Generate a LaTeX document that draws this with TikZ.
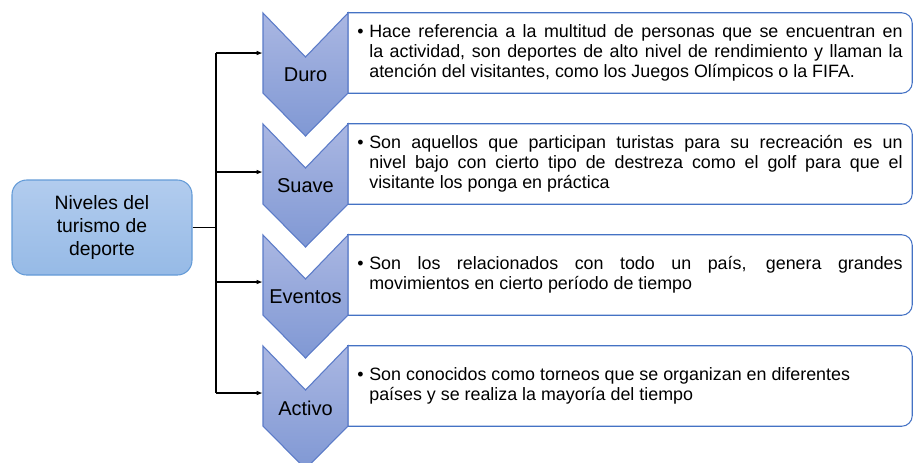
\documentclass[tikz,border=0pt]{standalone}
\usepackage{fontspec}
\setmainfont{Liberation Sans}
\usetikzlibrary{positioning,arrows.meta,calc}

\definecolor{chevtop}{RGB}{170,183,226}
\definecolor{chevbot}{RGB}{128,152,212}
\definecolor{chevline}{RGB}{91,123,200}
\definecolor{boxline}{RGB}{68,114,196}
\definecolor{maintop}{RGB}{178,204,238}
\definecolor{mainbot}{RGB}{150,186,230}
\definecolor{mainline}{RGB}{100,155,215}

\begin{document}
\begin{tikzpicture}[x=0.75pt,y=-0.75pt,
  chev/.style={draw=chevline,line width=0.8pt,top color=chevtop,bottom color=chevbot},
  lvl/.style={minimum width=63.75pt,minimum height=27pt,inner sep=0pt,font=\fontsize{15}{18}\selectfont},
  txt/.style={minimum width=423pt,minimum height=60pt,text width=409pt,inner sep=0pt,align=justify,font=\fontsize{13.4}{15}\selectfont,
    execute at begin node={\hangindent=9pt\hangafter=1\noindent\makebox[9pt][l]{\textbullet}}},
  frame/.style={draw=boxline,line width=0.8pt},
  wire/.style={line width=0.9pt},
  tip/.style={-{Latex[length=4.5pt,width=3.5pt]}}]
  \useasboundingbox (0,0) rectangle (913,462);

  % root
  \node[rounded corners=11pt,draw=mainline,line width=0.8pt,top color=maintop,bottom color=mainbot,minimum width=135pt,minimum height=71.25pt,align=center,font=\fontsize{14.5}{17.5}\selectfont] (main) at (102,227.5) {Niveles del\\turismo de\\deporte};

  % descriptions
  \node[txt] (duroT) at (630,53) {Hace referencia a la multitud de personas que se encuentran en\linebreak la actividad, son deportes de alto nivel de rendimiento y llaman la\linebreak atención del visitantes, como los Juegos Olímpicos o la FIFA.};
  \node[txt] (suaveT) at (630,164) {Son aquellos que participan turistas para su recreación es un\linebreak nivel bajo con cierto tipo de destreza como el golf para que el\linebreak visitante los ponga en práctica};
  \node[txt] (eventosT) at (630,275) {Son los relacionados con todo un país, genera grandes\linebreak movimientos en cierto período de tiempo};
  \node[txt] (activoT) at (630,386) {Son conocidos como torneos que se organizan en diferentes\\ países y se realiza la mayoría del tiempo};
  \foreach \t in {duroT,suaveT,eventosT,activoT}
    \draw[frame] (\t.north west) -- ([xshift=-8pt]\t.north east) arc[start angle=90,end angle=0,radius=8pt]
      -- ([yshift=8pt]\t.south east) arc[start angle=0,end angle=-90,radius=8pt] -- (\t.south west) -- cycle;

  % chevrons
  \foreach \y in {13,124,235,346}
    \draw[chev] (263,\y) -- (305.5,\y+44) -- (348,\y) -- (348,\y+80) -- (305.5,\y+123) -- (263,\y+80) -- cycle;

  % levels
  \node[lvl] (duro) at (305.5,75) {Duro};
  \node[lvl] (suave) at (305.5,186) {Suave};
  \node[lvl] (eventos) at (305.5,297) {Eventos};
  \node[lvl] (activo) at (305.5,408) {Activo};

  % connectors
  \coordinate (fork) at (216,227.5);
  \coordinate (jduro) at (216,53);
  \coordinate (jsuave) at (216,172);
  \coordinate (jeventos) at (216,282);
  \coordinate (jactivo) at (216,393);
  \draw[wire] (main.east) -- (fork);
  \draw[wire] (jduro) -- (jactivo);
  \foreach \n in {duro,suave,eventos,activo}
    \draw[wire,tip] (j\n) -- (\n.west |- j\n);
\end{tikzpicture}
\end{document}
